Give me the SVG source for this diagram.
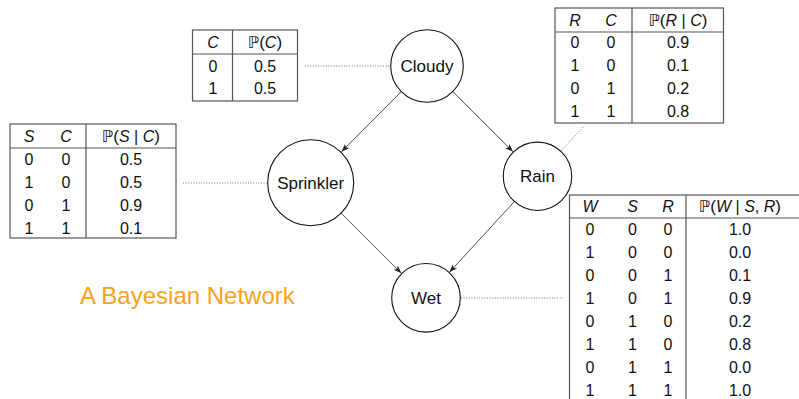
<svg xmlns="http://www.w3.org/2000/svg" width="799" height="399" viewBox="0 0 799 399">
  <style>
    text { font-family: "Liberation Sans", "DejaVu Sans", Arial, sans-serif; fill: #111; }
    .cell { font-size: 16px; text-anchor: middle; }
    .var { font-style: italic; }
    .bb { font-family: "DejaVu Sans", sans-serif; font-style: normal; }
    .par { font-size: 17px; }
    .label { font-size: 17px; text-anchor: middle; }
    .rule { stroke: #555; stroke-width: 1.2; fill: none; }
    .node { fill: #fff; stroke: #111; stroke-width: 1.1; }
    .edge { stroke: #222; stroke-width: 0.8; fill: none; marker-end: url(#tip); }
    .link { stroke: #666; stroke-width: 0.9; stroke-dasharray: 1 1.6; fill: none; }
    .title { font-size: 24px; fill: #F8A31C; }
  </style>
  <defs>
    <marker id="tip" markerUnits="userSpaceOnUse" markerWidth="9" markerHeight="7" refX="8" refY="3" orient="auto">
      <path d="M0,0 L8,3 L0,6 L1.8,3 z" fill="#222"/>
    </marker>
  </defs>

  <!-- dotted links between nodes and their tables -->
  <g id="links">
    <line class="link" x1="305" y1="66" x2="390" y2="66"/>
    <line class="link" x1="183" y1="183" x2="267" y2="183"/>
    <line class="link" x1="561" y1="151" x2="584" y2="126"/>
    <line class="link" x1="461" y1="298" x2="563" y2="298"/>
  </g>

  <!-- directed edges -->
  <g id="edges">
    <line class="edge" x1="401.4" y1="91.5" x2="341.5" y2="151.7"/>
    <line class="edge" x1="452.7" y1="91.5" x2="513" y2="151.8"/>
    <line class="edge" x1="341.1" y1="213" x2="401.4" y2="273.3"/>
    <line class="edge" x1="514.4" y1="201.5" x2="449.4" y2="272.3"/>
  </g>

  <!-- nodes -->
  <g id="cloudy">
    <circle class="node" cx="427" cy="66" r="36.3"/>
    <text class="label" x="427" y="72">Cloudy</text>
  </g>
  <g id="sprinkler">
    <circle class="node" cx="310.7" cy="182.7" r="43"/>
    <text class="label" x="310.7" y="188.7">Sprinkler</text>
  </g>
  <g id="rain">
    <circle class="node" cx="537.5" cy="176.3" r="34.2"/>
    <text class="label" x="537.5" y="182.3">Rain</text>
  </g>
  <g id="wet">
    <circle class="node" cx="426" cy="297.8" r="34.3"/>
    <text class="label" x="426" y="303.8">Wet</text>
  </g>

  <!-- table for Cloudy -->
  <g id="table-c">
    <rect class="rule" x="192.5" y="30" width="105" height="71"/>
    <line class="rule" x1="192.5" y1="54" x2="297.5" y2="54"/>
    <line class="rule" x1="232.5" y1="30" x2="232.5" y2="101"/>
    <text class="cell var" x="213" y="47.5">C</text>
    <text class="cell" x="265" y="47.5"><tspan class="bb">ℙ</tspan><tspan class="par">(</tspan><tspan class="var">C</tspan><tspan class="par">)</tspan></text>
    <text class="cell" x="213" y="72">0</text><text class="cell" x="265" y="72">0.5</text>
    <text class="cell" x="213" y="94">1</text><text class="cell" x="265" y="94">0.5</text>
  </g>

  <!-- table for Sprinkler -->
  <g id="table-s">
    <rect class="rule" x="10" y="124" width="166" height="114"/>
    <line class="rule" x1="10" y1="148" x2="176" y2="148"/>
    <line class="rule" x1="86" y1="124" x2="86" y2="238"/>
    <text class="cell var" x="29" y="141.5">S</text>
    <text class="cell var" x="66" y="141.5">C</text>
    <text class="cell" x="131" y="141.5"><tspan class="bb">ℙ</tspan><tspan class="par">(</tspan><tspan class="var">S</tspan> | <tspan class="var">C</tspan><tspan class="par">)</tspan></text>
    <text class="cell" x="29" y="165">0</text><text class="cell" x="66" y="165">0</text><text class="cell" x="131" y="165">0.5</text>
    <text class="cell" x="29" y="188">1</text><text class="cell" x="66" y="188">0</text><text class="cell" x="131" y="188">0.5</text>
    <text class="cell" x="29" y="211">0</text><text class="cell" x="66" y="211">1</text><text class="cell" x="131" y="211">0.9</text>
    <text class="cell" x="29" y="234">1</text><text class="cell" x="66" y="234">1</text><text class="cell" x="131" y="234">0.1</text>
  </g>

  <!-- table for Rain -->
  <g id="table-r">
    <rect class="rule" x="555" y="8" width="168.5" height="115"/>
    <line class="rule" x1="555" y1="32" x2="723.5" y2="32"/>
    <line class="rule" x1="632" y1="8" x2="632" y2="123"/>
    <text class="cell var" x="575" y="25.5">R</text>
    <text class="cell var" x="611" y="25.5">C</text>
    <text class="cell" x="678" y="25.5"><tspan class="bb">ℙ</tspan><tspan class="par">(</tspan><tspan class="var">R</tspan> | <tspan class="var">C</tspan><tspan class="par">)</tspan></text>
    <text class="cell" x="575" y="48">0</text><text class="cell" x="611" y="48">0</text><text class="cell" x="678" y="48">0.9</text>
    <text class="cell" x="575" y="71">1</text><text class="cell" x="611" y="71">0</text><text class="cell" x="678" y="71">0.1</text>
    <text class="cell" x="575" y="94">0</text><text class="cell" x="611" y="94">1</text><text class="cell" x="678" y="94">0.2</text>
    <text class="cell" x="575" y="117">1</text><text class="cell" x="611" y="117">1</text><text class="cell" x="678" y="117">0.8</text>
  </g>

  <!-- table for Wet -->
  <g id="table-w">
    <rect class="rule" x="569.5" y="195" width="240" height="208"/>
    <line class="rule" x1="569.5" y1="218" x2="809.5" y2="218"/>
    <line class="rule" x1="686" y1="195" x2="686" y2="403"/>
    <text class="cell var" x="590" y="212">W</text>
    <text class="cell var" x="632.5" y="212">S</text>
    <text class="cell var" x="668" y="212">R</text>
    <text class="cell" x="740" y="212"><tspan class="bb">ℙ</tspan><tspan class="par">(</tspan><tspan class="var">W</tspan> | <tspan class="var">S</tspan>, <tspan class="var">R</tspan><tspan class="par">)</tspan></text>
    <text class="cell" x="590" y="235">0</text><text class="cell" x="632.5" y="235">0</text><text class="cell" x="668" y="235">0</text><text class="cell" x="740" y="235">1.0</text>
    <text class="cell" x="590" y="258">1</text><text class="cell" x="632.5" y="258">0</text><text class="cell" x="668" y="258">0</text><text class="cell" x="740" y="258">0.0</text>
    <text class="cell" x="590" y="281">0</text><text class="cell" x="632.5" y="281">0</text><text class="cell" x="668" y="281">1</text><text class="cell" x="740" y="281">0.1</text>
    <text class="cell" x="590" y="304">1</text><text class="cell" x="632.5" y="304">0</text><text class="cell" x="668" y="304">1</text><text class="cell" x="740" y="304">0.9</text>
    <text class="cell" x="590" y="327">0</text><text class="cell" x="632.5" y="327">1</text><text class="cell" x="668" y="327">0</text><text class="cell" x="740" y="327">0.2</text>
    <text class="cell" x="590" y="350">1</text><text class="cell" x="632.5" y="350">1</text><text class="cell" x="668" y="350">0</text><text class="cell" x="740" y="350">0.8</text>
    <text class="cell" x="590" y="373">0</text><text class="cell" x="632.5" y="373">1</text><text class="cell" x="668" y="373">1</text><text class="cell" x="740" y="373">0.0</text>
    <text class="cell" x="590" y="396">1</text><text class="cell" x="632.5" y="396">1</text><text class="cell" x="668" y="396">1</text><text class="cell" x="740" y="396">1.0</text>
  </g>

  <text class="title" x="80" y="304">A Bayesian Network</text>
</svg>
